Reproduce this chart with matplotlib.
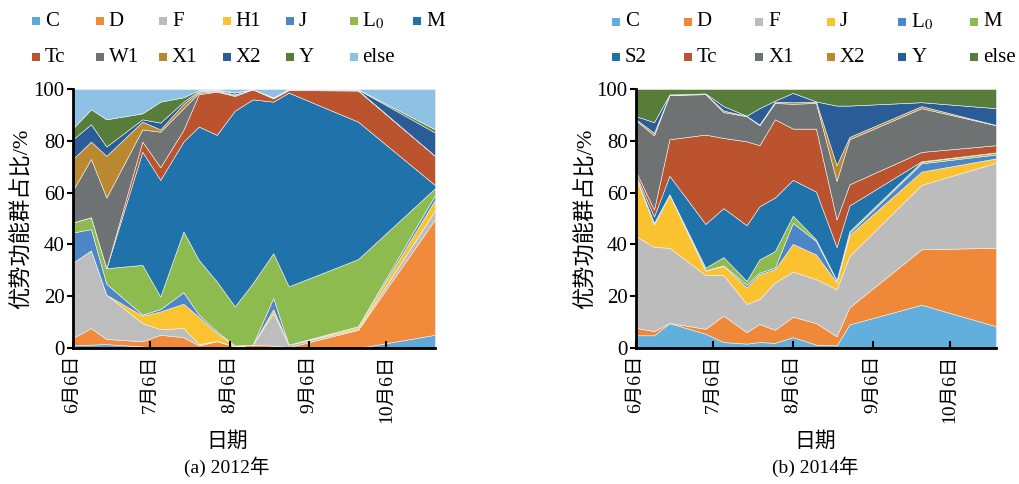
import numpy as np
import matplotlib.pyplot as plt
from matplotlib.patches import Rectangle

plt.rcParams['font.family'] = ['Liberation Serif', 'Noto Sans CJK SC']
plt.rcParams['mathtext.fontset'] = 'stix'

# days counted from 6月6日
tick_days = [0, 30, 61, 92, 122]
tick_labels = ['6月6日', '7月6日', '8月6日', '9月6日', '10月6日']

# ---- 2012 ----
days_2012 = [0, 7, 13, 27, 34, 43, 49, 56, 63, 70, 78, 84, 111, 141]
C_12 = [1.0, 1.3, 1.5, 0.6, 0.2, 0.3, 0, 0, 0, 0, 0, 0, 0, 5.1]
D_12 = [2.9, 6.4, 2.0, 2.0, 4.9, 3.9, 1.0, 2.6, 0.6, 1.3, 0.9, 0.3, 7.0, 44.6]
F_12 = [29.1, 30.0, 17.1, 7.0, 2.2, 3.5, 0.5, 0.2, 0, 0, 12.6, 1.0, 0.3, 3.4]
H1_12 = [0, 0, 0, 2.9, 6.8, 9.4, 10.5, 3.0, 0.3, 0, 1.5, 0, 0.8, 4.1]
J_12 = [11.6, 8.2, 4.2, 0.4, 0.9, 4.4, 0.9, 0.6, 0.1, 0, 4.3, 0, 0.3, 1.9]
L0_12 = [3.9, 4.6, 6.0, 19.2, 4.9, 23.5, 21.1, 19.3, 15.1, 23.7, 17.3, 22.5, 25.9, 2.6]
M_12 = [0, 0, 0, 43.7, 45.0, 34.7, 51.5, 56.6, 75.5, 71.0, 58.5, 74.8, 53.1, 1.2]
Tc_12 = [0, 0, 0, 3.9, 4.9, 4.5, 12.5, 16.7, 5.7, 3.9, 1.3, 1.0, 12.0, 11.3]
W1_12 = [12.5, 22.5, 27.3, 4.7, 13.7, 8.3, 0.5, 0.2, 0.4, 0, 0.1, 0.1, 0.1, 0]
X1_12 = [12.0, 6.7, 16.1, 3.0, 0.9, 1.7, 0.5, 0.2, 0.2, 0, 0.1, 0.1, 0.1, 0]
X2_12 = [7.6, 6.7, 3.6, 0.9, 2.6, 0.9, 0.3, 0.2, 0.7, 0, 0.1, 0.1, 0.2, 9.0]
Y_12 = [4.2, 5.8, 10.5, 2.3, 8.1, 1.7, 0.3, 0.2, 0.1, 0, 0.1, 0.1, 0.1, 1.2]
else_12 = [15.2, 7.8, 11.7, 9.4, 4.9, 3.2, 0.4, 0.2, 1.3, 0.1, 3.2, 0, 0.1, 15.6]

names_2012 = ['C', 'D', 'F', 'H1', 'J', 'L$_0$', 'M', 'Tc', 'W1', 'X1', 'X2', 'Y', 'else']
colors_2012 = ['#5FA8DC', '#F28A3B', '#BDBDBD', '#FBC330', '#4C86C6', '#8EBB4F', '#1F72AA',
               '#BA532E', '#6F7273', '#B9882F', '#2A5D97', '#587C3A', '#8DC2E5']

# ---- 2014 ----
days_2014 = [0, 7, 13, 27, 34, 43, 48, 54, 61, 70, 78, 83, 111, 140]
C_14 = [4.9, 4.9, 9.6, 5.5, 2.3, 1.7, 2.3, 2.0, 4.2, 1.3, 1.0, 9.1, 16.7, 8.4]
D_14 = [2.9, 1.6, 0.1, 1.9, 10.2, 4.4, 7.0, 5.0, 7.9, 8.3, 3.5, 6.6, 21.4, 30.3]
F_14 = [35.4, 32.5, 29.0, 20.8, 15.7, 10.9, 9.6, 18.3, 17.4, 17.0, 18.2, 19.8, 24.9, 32.8]
J_14 = [22.3, 8.6, 20.4, 1.6, 3.5, 6.4, 9.6, 5.1, 10.7, 9.5, 2.6, 8.1, 5.1, 1.7]
L0_14 = [0.5, 0.7, 0.3, 0.2, 0.2, 1.0, 0.6, 0.6, 8.1, 5.2, 0.6, 0.8, 3.2, 1.5]
M_14 = [0.2, 0, 0, 1.0, 3.2, 1.5, 5.1, 6.4, 2.8, 0.6, 0.3, 0.7, 0.6, 0.7]
S2_14 = [0.6, 2.5, 7.1, 16.9, 18.9, 21.5, 20.5, 20.7, 13.8, 18.5, 12.8, 9.9, 0.2, 0.1]
Tc_14 = [1.3, 2.6, 14.1, 34.5, 27.1, 32.4, 23.6, 30.2, 19.8, 24.3, 10.6, 8.2, 3.6, 2.8]
X1_14 = [19.8, 28.7, 17.1, 15.6, 10.0, 9.7, 7.7, 6.3, 9.6, 9.9, 14.9, 17.4, 16.9, 7.7]
X2_14 = [0.4, 1.0, 0.1, 0.1, 0.6, 0.1, 0.3, 0.5, 0.6, 0.5, 6.1, 0.9, 0.8, 0.1]
Y_14 = [1.2, 4.1, 0.1, 0.2, 1.7, 0.1, 6.3, 0.4, 3.6, 0.1, 23.0, 12.1, 1.5, 6.5]
else_14 = [10.5, 12.8, 2.1, 1.7, 6.6, 10.3, 7.4, 4.5, 1.5, 4.8, 6.4, 6.4, 5.1, 7.4]

names_2014 = ['C', 'D', 'F', 'J', 'L$_0$', 'M', 'S2', 'Tc', 'X1', 'X2', 'Y', 'else']
colors_2014 = ['#62AEDC', '#F0883A', '#BCBCBC', '#F9C22E', '#4C86C6', '#8EBB4F',
               '#1F72AA', '#BA532E', '#6F7273', '#B9882F', '#2A5D97', '#587C3A']

series_2012 = [C_12, D_12, F_12, H1_12, J_12, L0_12, M_12, Tc_12, W1_12, X1_12, X2_12, Y_12, else_12]
series_2014 = [C_14, D_14, F_14, J_14, L0_14, M_14, S2_14, Tc_14, X1_14, X2_14, Y_14, else_14]

W, H = 1019, 484
fig = plt.figure(figsize=(W / 100, H / 100), dpi=100)

ax1 = fig.add_axes([73 / W, 1 - 348 / H, 362 / W, 259 / H])
ax2 = fig.add_axes([636 / W, 1 - 348 / H, 360 / W, 259 / H])


def draw_panel(ax, days, series, colors, xlab_x, caption, cap_x):
    ax.stackplot(days, np.array(series), colors=colors, edgecolor='#f2f2f2', linewidth=0.4)
    ax.set_xlim(days[0], days[-1])
    ax.set_ylim(0, 100)
    ax.set_yticks(range(0, 101, 20))
    ax.set_xticks(tick_days)
    ax.set_xticklabels(tick_labels, rotation=90, fontsize=14)
    ax.tick_params(axis='y', direction='out', length=4, width=1.5, labelsize=15, pad=2)
    ax.tick_params(axis='x', direction='in', length=5, width=1.5, pad=5)
    for s in ['top', 'right']:
        ax.spines[s].set_visible(False)
    for s in ['left', 'bottom']:
        ax.spines[s].set_linewidth(2)
    ax.set_ylabel('优势功能群占比/%', fontsize=16)
    ax.yaxis.set_label_coords(-0.11, 0.5)
    ax.set_xlabel('日期', fontsize=15)
    ax.xaxis.set_label_coords(xlab_x, -0.325)
    fig.text(cap_x / W, 1 - 467 / H, caption, ha='center', va='center', fontsize=14)


def draw_legend(names, colors, x0, dx, rows, ncol):
    for i, (name, col) in enumerate(zip(names, colors)):
        r, c = divmod(i, ncol)
        x = x0 + c * dx
        y = rows[r]
        fig.add_artist(Rectangle((x / W, 1 - (y + 4) / H), 8 / W, 8 / H,
                                 transform=fig.transFigure, facecolor=col, edgecolor='none'))
        fig.text((x + 13) / W, 1 - y / H, name, ha='left', va='center', fontsize=15)


draw_panel(ax1, days_2012, series_2012, colors_2012, 0.425, '(a) 2012年', 227)
draw_panel(ax2, days_2014, series_2014, colors_2014, 0.497, '(b) 2014年', 815)

draw_legend(names_2012, colors_2012, 32, 63.5, [21, 57], 7)
draw_legend(names_2014, colors_2014, 612, 71.6, [22, 57], 6)

fig.savefig('out.png', dpi=100)
